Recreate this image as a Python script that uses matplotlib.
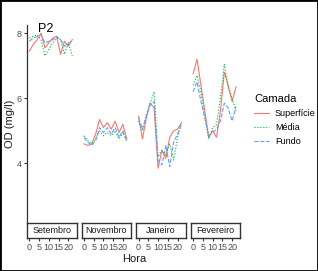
import numpy as np
import matplotlib
matplotlib.use("Agg")
import matplotlib.pyplot as plt
from matplotlib.patches import Rectangle

plt.rcParams['font.family'] = ['Liberation Sans', 'DejaVu Sans']

# data
hora = [0, 2, 4, 6, 8, 10, 12, 14, 16, 18, 20, 22]
meses = ['Setembro', 'Novembro', 'Janeiro', 'Fevereiro']
camadas = ['Superfície', 'Média', 'Fundo']

superficie = {
    'Setembro':  [7.45, 7.65, 7.8, 8.0, 7.55, 7.7, 7.85, 7.9, 7.35, 7.75, 7.6, 7.8],
    'Novembro':  [4.6, 4.55, 4.6, 4.9, 5.35, 5.1, 5.25, 5.05, 5.3, 4.95, 5.2, 4.75],
    'Janeiro':   [5.45, 4.75, 5.4, 5.85, 5.7, 3.85, 4.4, 4.15, 4.8, 5.0, 5.05, 5.25],
    'Fevereiro': [6.75, 7.2, 6.4, 5.6, 4.8, 5.0, 4.8, 5.6, 6.8, 6.4, 5.9, 6.35],
}
media = {
    'Setembro':  [7.85, 7.9, 7.95, 7.8, 7.3, 7.5, 7.7, 7.85, 7.8, 7.35, 7.7, 7.3],
    'Novembro':  [4.85, 4.7, 4.6, 4.75, 5.0, 4.85, 4.95, 4.85, 5.0, 4.75, 4.95, 4.65],
    'Janeiro':   [5.3, 5.0, 5.5, 5.85, 6.2, 4.2, 4.4, 4.25, 4.6, 4.1, 4.8, 5.25],
    'Fevereiro': [6.4, 6.7, 6.2, 5.4, 4.75, 5.1, 5.2, 6.0, 7.05, 6.3, 6.0, 5.6],
}
fundo = {
    'Setembro':  [7.75, 7.85, 7.9, 7.95, 7.7, 7.75, 7.8, 7.9, 7.8, 7.6, 7.7, 7.75],
    'Novembro':  [4.8, 4.65, 4.55, 4.7, 5.1, 4.95, 5.1, 4.9, 5.1, 4.8, 5.0, 4.7],
    'Janeiro':   [5.4, 5.05, 5.45, 5.8, 5.9, 4.1, 3.95, 4.55, 3.9, 4.65, 4.9, 5.2],
    'Fevereiro': [6.2, 6.5, 5.9, 5.4, 4.85, 4.95, 5.05, 5.3, 5.85, 5.7, 5.3, 5.75],
}

series = [(superficie, '#F8766D', '-'), (media, '#00BA38', ':'), (fundo, '#619CFF', '--')]

W, H = 318, 271
fig = plt.figure(figsize=(W / 100, H / 100), dpi=100)
fig.patches.append(Rectangle((0, 0), 1, 1, transform=fig.transFigure,
                             fill=False, edgecolor='black', lw=2))

def fx(px):
    return px / W

def fy(px):
    return 1 - px / H

gray = '#4D4D4D'
for i, mes in enumerate(meses):
    x0 = 27 + 54.6 * i
    ax = fig.add_axes([fx(x0), fy(222), fx(49.5), (222 - 25) / H])
    for dados, cor, ls in series:
        ax.plot(hora, dados[mes], color=cor, ls=ls, lw=0.8)
    ax.set_xlim(-1.2, 24.2)
    ax.set_ylim(2.2, 8.25)
    ax.set_xticks([])
    for s in ['top', 'right', 'bottom']:
        ax.spines[s].set_visible(False)
    if i == 0:
        ax.spines['left'].set_color('#333333')
        ax.spines['left'].set_linewidth(0.9)
        ax.set_yticks([4, 6, 8])
        ax.tick_params(axis='y', length=2.5, width=0.8, colors='#333333',
                       labelsize=6.5, labelcolor=gray, pad=1.5)
        ax.set_ylabel('OD (mg/l)', fontsize=8, color='#1a1a1a', labelpad=1)
        ax.text(4.5, 8.3, 'P2', fontsize=9, color='black', va='top')
    else:
        ax.spines['left'].set_visible(False)
        ax.set_yticks([])
    ax.patch.set_alpha(0)

    sx = fig.add_axes([fx(x0), fy(238), fx(49.5), 15 / H])
    sx.set_xlim(-1.2, 24.2)
    sx.set_ylim(0, 1)
    sx.set_yticks([])
    sx.set_xticks([0, 5, 10, 15, 20])
    sx.tick_params(axis='x', length=2, width=0.8, colors='#333333',
                   labelsize=6.5, labelcolor=gray, pad=1.5)
    for s in sx.spines.values():
        s.set_color('#333333')
        s.set_linewidth(1.0)
    sx.text(0.5, 0.5, mes, transform=sx.transAxes, ha='center', va='center',
            fontsize=6.5, color='#1a1a1a')

fig.text(fx(134), fy(259), 'Hora', ha='center', va='center', fontsize=8, color='#1a1a1a')

handles = fig.axes[0].get_lines()
leg = fig.legend(handles, camadas, title='Camada', loc='upper left',
                 bbox_to_anchor=(fx(246), fy(86)), frameon=False,
                 fontsize=6.5, title_fontsize=8, handlelength=1.6,
                 labelspacing=0.55, handletextpad=0.7)
leg._legend_box.align = 'left'

fig.savefig('out.png', dpi=100)
